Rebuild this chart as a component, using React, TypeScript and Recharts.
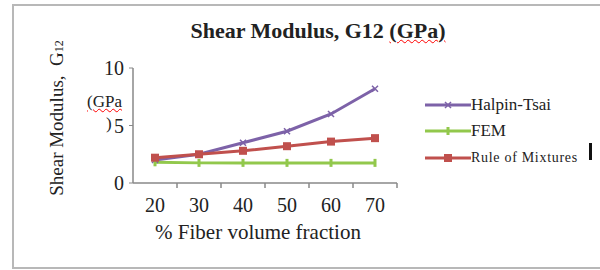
import React from "react";
import { LineChart, Line, XAxis, YAxis } from "recharts";

const FIBER_VF = [20, 30, 40, 50, 60, 70];
const HALPIN_TSAI = [2.0, 2.5, 3.5, 4.5, 6.0, 8.2];
const FEM = [1.8, 1.75, 1.75, 1.75, 1.75, 1.75];
const RULE_OF_MIXTURES = [2.2, 2.5, 2.8, 3.2, 3.6, 3.9];
const Y_TICKS = [0, 5, 10];
const SERIES_NAMES = ["Halpin-Tsai", "FEM", "Rule of Mixtures"];

const PURPLE = "#7d62a8";
const GREEN = "#92c84c";
const RED = "#c0504d";
const FONT = "'Liberation Serif', 'DejaVu Serif', serif";
const TEXT = "#222";

const data = FIBER_VF.map((vf, i) => ({
  vf,
  halpin: HALPIN_TSAI[i],
  fem: FEM[i],
  rom: RULE_OF_MIXTURES[i],
}));

// half a category step (px) – tick marks sit between the labels like Excel
const HALF_STEP = 22;

// eslint-disable-next-line @typescript-eslint/no-explicit-any
function XTick(props: any) {
  const { x, y, payload } = props;
  return (
    <g>
      <line x1={x + HALF_STEP} x2={x + HALF_STEP} y1={y - 8} y2={y - 3} stroke="#888" strokeWidth={1.5} />
      <text x={x} y={y + 14} textAnchor="middle" dominantBaseline="central"
        fontFamily={FONT} fontSize={20} fill={TEXT}>
        {payload.value}
      </text>
    </g>
  );
}

// eslint-disable-next-line @typescript-eslint/no-explicit-any
const CrossDot = (props: any) => {
  const { cx, cy } = props;
  if (cx == null || cy == null) return null;
  return (
    <path d={`M${cx - 3},${cy - 3}L${cx + 3},${cy + 3}M${cx - 3},${cy + 3}L${cx + 3},${cy - 3}`}
      stroke={PURPLE} strokeWidth={1.5} />
  );
};

// eslint-disable-next-line @typescript-eslint/no-explicit-any
const TickDot = (props: any) => {
  const { cx, cy } = props;
  if (cx == null || cy == null) return null;
  return <rect x={cx - 1.5} y={cy - 4} width={3} height={8} fill={GREEN} />;
};

// eslint-disable-next-line @typescript-eslint/no-explicit-any
const SquareDot = (props: any) => {
  const { cx, cy } = props;
  if (cx == null || cy == null) return null;
  return <rect x={cx - 4} y={cy - 4} width={8} height={8} fill={RED} />;
};

const LEGEND_ROWS = [
  { name: SERIES_NAMES[0], color: PURPLE, size: 17, height: 25, spacing: 0 },
  { name: SERIES_NAMES[1], color: GREEN, size: 17, height: 28, spacing: 0 },
  { name: SERIES_NAMES[2], color: RED, size: 14, height: 26, spacing: 0.7 },
];

function LegendBox() {
  return (
    <div style={{ position: "absolute", left: 425, top: 92, fontFamily: FONT, color: TEXT }}>
      {LEGEND_ROWS.map((row, i) => (
        <div key={row.name} style={{ height: row.height, display: "flex", alignItems: "center" }}>
          <svg width={46} height={12} style={{ flex: "none" }}>
            <line x1={0} x2={46} y1={6} y2={6} stroke={row.color} strokeWidth={3} />
            {i === 0 && <path d="M20,3L26,9M20,9L26,3" stroke={PURPLE} strokeWidth={1.5} />}
            {i === 1 && <rect x={21.5} y={2} width={3} height={8} fill={GREEN} />}
            {i === 2 && <rect x={19} y={2} width={8} height={8} fill={RED} />}
          </svg>
          <span style={{ fontSize: row.size, whiteSpace: "nowrap", letterSpacing: row.spacing }}>
            {row.name}
          </span>
        </div>
      ))}
    </div>
  );
}

export default function App() {
  return (
    <div style={{ position: "absolute", left: 0, top: 0, width: 600, height: 270, background: "#fff", overflow: "hidden" }}>
      <div style={{ position: "absolute", left: 12, top: 4, width: 600, height: 261, border: "2px solid #b8b8b8" }} />

      <div style={{ position: "absolute", left: 0, top: 18, width: 636, textAlign: "center",
        fontFamily: FONT, fontWeight: "bold", fontSize: 22, color: TEXT }}>
        Shear Modulus, G12{" "}
        <span style={{ textDecoration: "underline wavy red", textDecorationThickness: 1 }}>(GPa)</span>
      </div>

      <div style={{ position: "absolute", left: 57, top: 118, transform: "translate(-50%, -50%) rotate(-90deg)",
        whiteSpace: "nowrap", fontFamily: FONT, fontSize: 19, color: TEXT }}>
        Shear Modulus,&nbsp;&nbsp;G<span style={{ fontSize: 12 }}>12</span>
      </div>
      <div style={{ position: "absolute", left: 87, top: 92, fontFamily: FONT, fontSize: 17, color: TEXT,
        textDecoration: "underline wavy red", textDecorationThickness: 1 }}>
        (GPa
      </div>
      <div style={{ position: "absolute", left: 106, top: 114, fontFamily: FONT, fontSize: 17, color: TEXT }}>)</div>

      <div style={{ position: "absolute", left: 0, top: 220, width: 516, textAlign: "center",
        fontFamily: FONT, fontSize: 21, color: TEXT }}>
        % Fiber volume fraction
      </div>

      <div style={{ position: "absolute", left: 589, top: 143, width: 3, height: 17, background: "#111" }} />

      <LegendBox />

      <div style={{ position: "absolute", left: 0, top: 0 }}>
        <LineChart width={600} height={270} data={data}
          margin={{ top: 68, right: 203, bottom: 47, left: 0 }}>
          <XAxis dataKey="vf" type="number" domain={[15, 75]} ticks={FIBER_VF}
            tick={<XTick />} tickLine={false} axisLine={{ stroke: "#888", strokeWidth: 1.5 }}
            height={40} interval={0} />
          <YAxis domain={[0, 10]} ticks={Y_TICKS} width={133} tickSize={4} tickMargin={5}
            tick={{ fontFamily: FONT, fontSize: 20, fill: TEXT }}
            tickLine={{ stroke: "#888" }} axisLine={{ stroke: "#888", strokeWidth: 1.5 }} />
          <Line dataKey="halpin" name={SERIES_NAMES[0]} stroke={PURPLE} strokeWidth={3}
            dot={<CrossDot />} activeDot={false} isAnimationActive={false} />
          <Line dataKey="fem" name={SERIES_NAMES[1]} stroke={GREEN} strokeWidth={3}
            dot={<TickDot />} activeDot={false} isAnimationActive={false} />
          <Line dataKey="rom" name={SERIES_NAMES[2]} stroke={RED} strokeWidth={3}
            dot={<SquareDot />} activeDot={false} isAnimationActive={false} />
        </LineChart>
      </div>
    </div>
  );
}
